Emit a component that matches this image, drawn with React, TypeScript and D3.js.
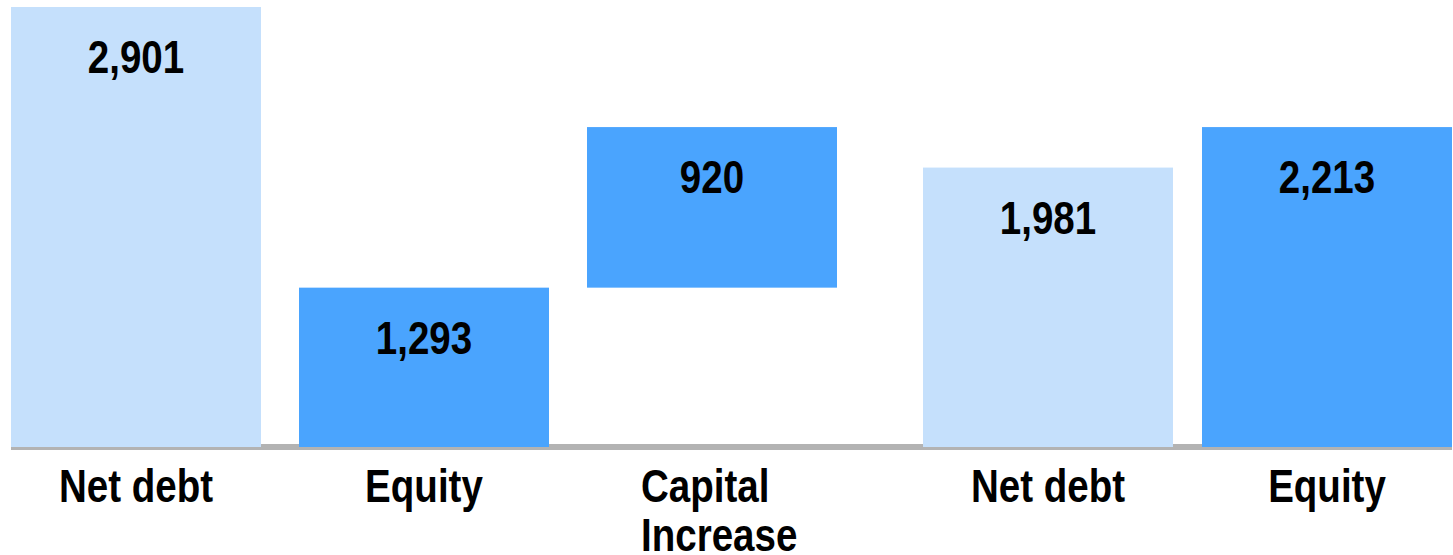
import React from "react";
import * as d3 from "d3";

const categories = ["Net debt", "Equity", "Capital Increase", "Net debt", "Equity"];
const values = [2901, 1293, 920, 1981, 2213];
const kinds = ["total", "total", "delta", "total", "total"];
const shades = ["light", "dark", "dark", "light", "dark"];
const groups = ["before", "before", "before", "after", "after"];
const valueLabels = ["2,901", "1,293", "920", "1,981", "2,213"];

const W = 1453;
const H = 555;
const FONT = "'Liberation Sans', Arial, sans-serif";
const NARROW = 0.82;
const colors: Record<string, string> = { light: "#C5E0FC", dark: "#4AA4FE" };

function NarrowText({ x, y, anchor, lines, lineGap }: { x: number; y: number; anchor: string; lines: string[]; lineGap: number }) {
  return (
    <text
      transform={`translate(${x},${y}) scale(${NARROW},1)`}
      textAnchor={anchor}
      fontFamily={FONT}
      fontWeight="bold"
      fontSize={47}
      fill="#000"
    >
      {lines.map((w, k) => (
        <tspan key={k} x={0} y={k * lineGap}>
          {w}
        </tspan>
      ))}
    </text>
  );
}

export default function App() {
  const baseline = 447;
  const axisFloor = 380;
  const y = d3.scaleLinear().domain([axisFloor, 2901]).range([baseline, 7]);

  const idxBefore = categories.map((_, i) => i).filter((i) => groups[i] === "before");
  const idxAfter = categories.map((_, i) => i).filter((i) => groups[i] === "after");
  const xBefore = d3.scaleBand<number>().domain(idxBefore).range([11, 837]).paddingInner(0.132).paddingOuter(0);
  const xAfter = d3.scaleBand<number>().domain(idxAfter).range([923, 1452]).paddingInner(0.104).paddingOuter(0);
  const xOf = (i: number) => (groups[i] === "before" ? xBefore : xAfter);

  const bars = values.map((v, i) => {
    const sx = xOf(i);
    const start = kinds[i] === "delta" ? values[i - 1] : axisFloor;
    const end = kinds[i] === "delta" ? start + v : v;
    const x0 = sx(i) as number;
    const bw = sx.bandwidth();
    return { i, x0, bw, yTop: y(end), yBot: y(start) };
  });

  return (
    <svg width={W} height={H} style={{ position: "absolute", left: 0, top: 0, display: "block", background: "#fff" }}>
      <line x1={11} x2={1452} y1={baseline} y2={baseline} stroke="#B3B3B3" strokeWidth={6} />
      {bars.map((b) => (
        <rect key={"r" + b.i} x={b.x0} y={b.yTop} width={b.bw} height={b.yBot - b.yTop} fill={colors[shades[b.i]]} />
      ))}
      {bars.map((b) => (
        <NarrowText key={"v" + b.i} x={b.x0 + b.bw / 2} y={b.yTop + 66} anchor="middle" lines={[valueLabels[b.i]]} lineGap={0} />
      ))}
      {bars.map((b) => {
        const multi = categories[b.i] === "Capital Increase";
        const lines = multi ? ["Capital", "Increase"] : [categories[b.i]];
        return (
          <NarrowText
            key={"c" + b.i}
            x={multi ? b.x0 + b.bw / 2 - 71 : b.x0 + b.bw / 2}
            y={502}
            anchor={multi ? "start" : "middle"}
            lines={lines}
            lineGap={49}
          />
        );
      })}
    </svg>
  );
}
